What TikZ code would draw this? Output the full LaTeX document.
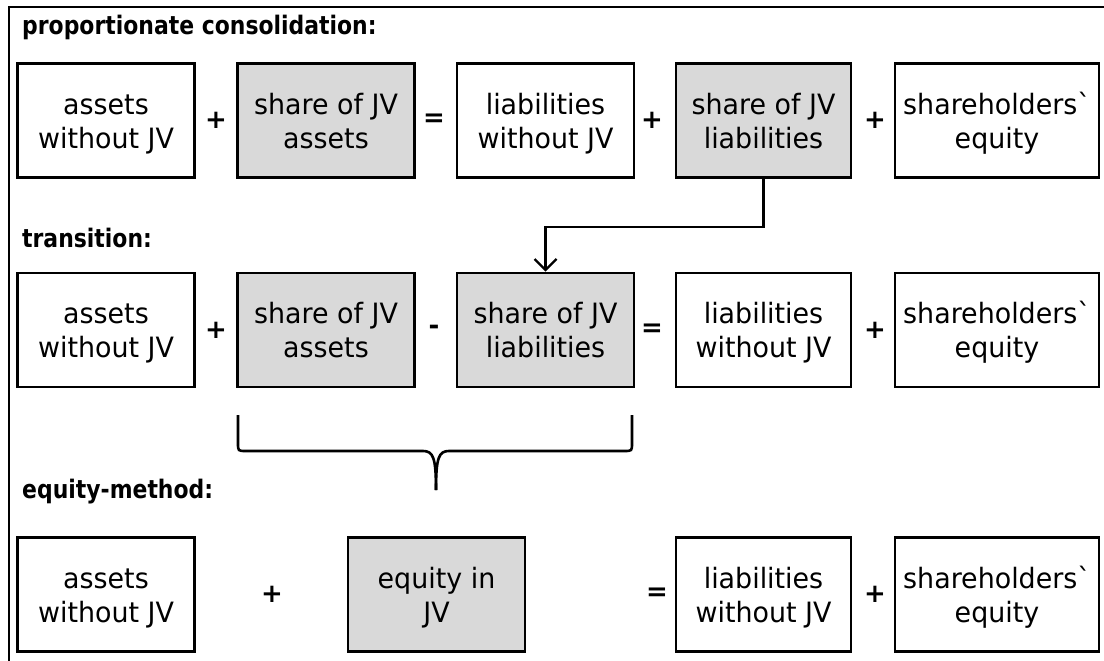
\documentclass[tikz,border=0pt]{standalone}
\usepackage{fontspec}
\setmainfont{DejaVu Sans}[Ligatures=TeXOff]
\usetikzlibrary{arrows.meta}
\definecolor{boxgray}{RGB}{217,217,217}
\newcommand{\bt}[1]{\raisebox{-4pt}[\height][\depth]{\scalebox{0.96}[1]{\begin{tabular}{@{}c@{}}#1\end{tabular}}}}
\newcommand{\hd}[1]{\scalebox{0.86}[1]{#1}}
\tikzset{
  bx/.style={draw=black, line width=2.6pt, fill=white, rectangle, inner sep=0pt,
    minimum height=114pt, align=center, font=\fontsize{28}{34}\selectfont},
  gbx/.style={bx, fill=boxgray},
  op/.style={inner sep=0pt, font=\bfseries\fontsize{26}{26}\selectfont},
  head/.style={inner sep=0pt, anchor=base west, font=\bfseries\fontsize{25.5}{28}\selectfont},
  conn/.style={line width=2.4pt, -{Straight Barb[length=11pt,width=22pt,line width=2.4pt]}},
  brace/.style={line width=2.6pt}
}
\begin{document}
\begin{tikzpicture}[x=1pt,y=-1pt]
\useasboundingbox (0,0) rectangle (1104,661);
% outer frame
\draw[line width=2pt] (9,700) -- (9,7) -- (1120,7);
% headings
\node[head] (h1) at (22,35) {\hd{proportionate consolidation:}};
\node[head] (h2) at (22,247) {\hd{transition:}};
\node[head] (h3) at (22,498) {\hd{equity-method:}};
% row 1
\node[bx,  minimum width=177pt] (A1) at (106,120.5) {\bt{assets\\without JV}};
\node[op] (p11) at (216,120.5) {+};
\node[gbx, minimum width=177pt] (B1) at (326,120.5) {\bt{share of JV\\assets}};
\node[op] (e1) at (434,120.5) {=};
\node[bx,  minimum width=177pt] (C1) at (545.5,120.5) {\bt{liabilities\\without JV}};
\node[op] (p12) at (652,120.5) {+};
\node[gbx, minimum width=175pt] (D1) at (763.5,120.5) {\bt{share of JV\\liabilities}};
\node[op] (p13) at (875,120.5) {+};
\node[bx,  minimum width=204pt] (E1) at (997,120.5) {\bt{shareholders`\\equity}};
% row 2
\node[bx,  minimum width=177pt] (A2) at (106,330) {\bt{assets\\without JV}};
\node[op] (p21) at (216,330) {+};
\node[gbx, minimum width=177pt] (B2) at (326,330) {\bt{share of JV\\assets}};
\node[op] (m2) at (434,330) {-};
\node[gbx, minimum width=177pt] (C2) at (545.5,330) {\bt{share of JV\\liabilities}};
\node[op] (e2) at (652,330) {=};
\node[bx,  minimum width=175pt] (D2) at (763.5,330) {\bt{liabilities\\without JV}};
\node[op] (p22) at (875,330) {+};
\node[bx,  minimum width=204pt] (E2) at (997,330) {\bt{shareholders`\\equity}};
% row 3
\node[bx,  minimum width=177pt] (A3) at (106,594.5) {\bt{assets\\without JV}};
\node[op] (p31) at (272,594.5) {+};
\node[gbx, minimum width=177pt] (B3) at (436.5,594.5) {\bt{equity in\\JV}};
\node[op] (e3) at (657,594.5) {=};
\node[bx,  minimum width=175pt] (C3) at (763.5,594.5) {\bt{liabilities\\without JV}};
\node[op] (p32) at (875,594.5) {+};
\node[bx,  minimum width=204pt] (E3) at (997,594.5) {\bt{shareholders`\\equity}};
% arrow
\draw[conn] (D1.south) -- ++(0,48) -| (C2.north);
% brace
\coordinate (bl) at (238,415);
\coordinate (br) at (632,415);
\coordinate (btip) at (436,490);
\draw[brace] (bl) -- (238,443) .. controls (238,451) .. (246,451) -- (423,451)
  .. controls (433,451) and (436,457) .. (btip);
\draw[brace] (br) -- (632,443) .. controls (632,451) .. (624,451) -- (449,451)
  .. controls (439,451) and (436,457) .. (btip);
\end{tikzpicture}
\end{document}
